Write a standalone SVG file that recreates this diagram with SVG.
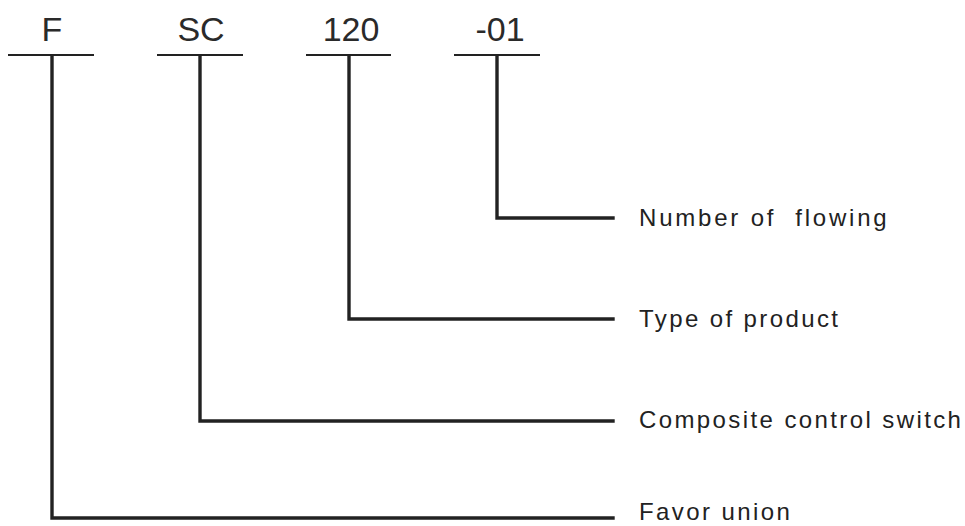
<svg xmlns="http://www.w3.org/2000/svg" width="965" height="526" viewBox="0 0 965 526">
  <style>
    .code { font-family: "Liberation Sans", Arial, sans-serif; font-size: 34px; fill: #2a2a2a; text-anchor: middle; }
    .lbl { font-family: "Liberation Sans", Arial, sans-serif; font-size: 24px; fill: #222; letter-spacing: 2.4px; white-space: pre; }
    .bar { stroke: #222; stroke-width: 2.2; fill: none; }
    .conn { stroke: #222; stroke-width: 3.4; fill: none; stroke-linejoin: miter; stroke-linecap: square; }
  </style>
  <rect width="965" height="526" fill="#ffffff"/>
  <g id="node-F">
    <text class="code" x="52" y="41">F</text>
    <line class="bar" x1="8" y1="55" x2="94" y2="55"/>
  </g>
  <g id="node-SC">
    <text class="code" x="201" y="41">SC</text>
    <line class="bar" x1="157" y1="55" x2="243" y2="55"/>
  </g>
  <g id="node-120">
    <text class="code" x="351" y="41">120</text>
    <line class="bar" x1="306" y1="55" x2="391" y2="55"/>
  </g>
  <g id="node-01">
    <text class="code" x="500" y="41">-01</text>
    <line class="bar" x1="454" y1="55" x2="540" y2="55"/>
  </g>
  <g id="label-number">
    <text class="lbl" x="639" y="226" style="letter-spacing:2.8px">Number of  flowing</text>
  </g>
  <g id="label-type">
    <text class="lbl" x="639" y="327">Type of product</text>
  </g>
  <g id="label-composite">
    <text class="lbl" x="639" y="428">Composite control switch</text>
  </g>
  <g id="label-favor">
    <text class="lbl" x="639" y="520">Favor union</text>
  </g>
  <g id="connectors">
    <path class="conn" d="M497,56 V218 H613"/>
    <path class="conn" d="M349,56 V319 H613"/>
    <path class="conn" d="M200,56 V421 H613"/>
    <path class="conn" d="M52,56 V518 H613"/>
  </g>
</svg>
